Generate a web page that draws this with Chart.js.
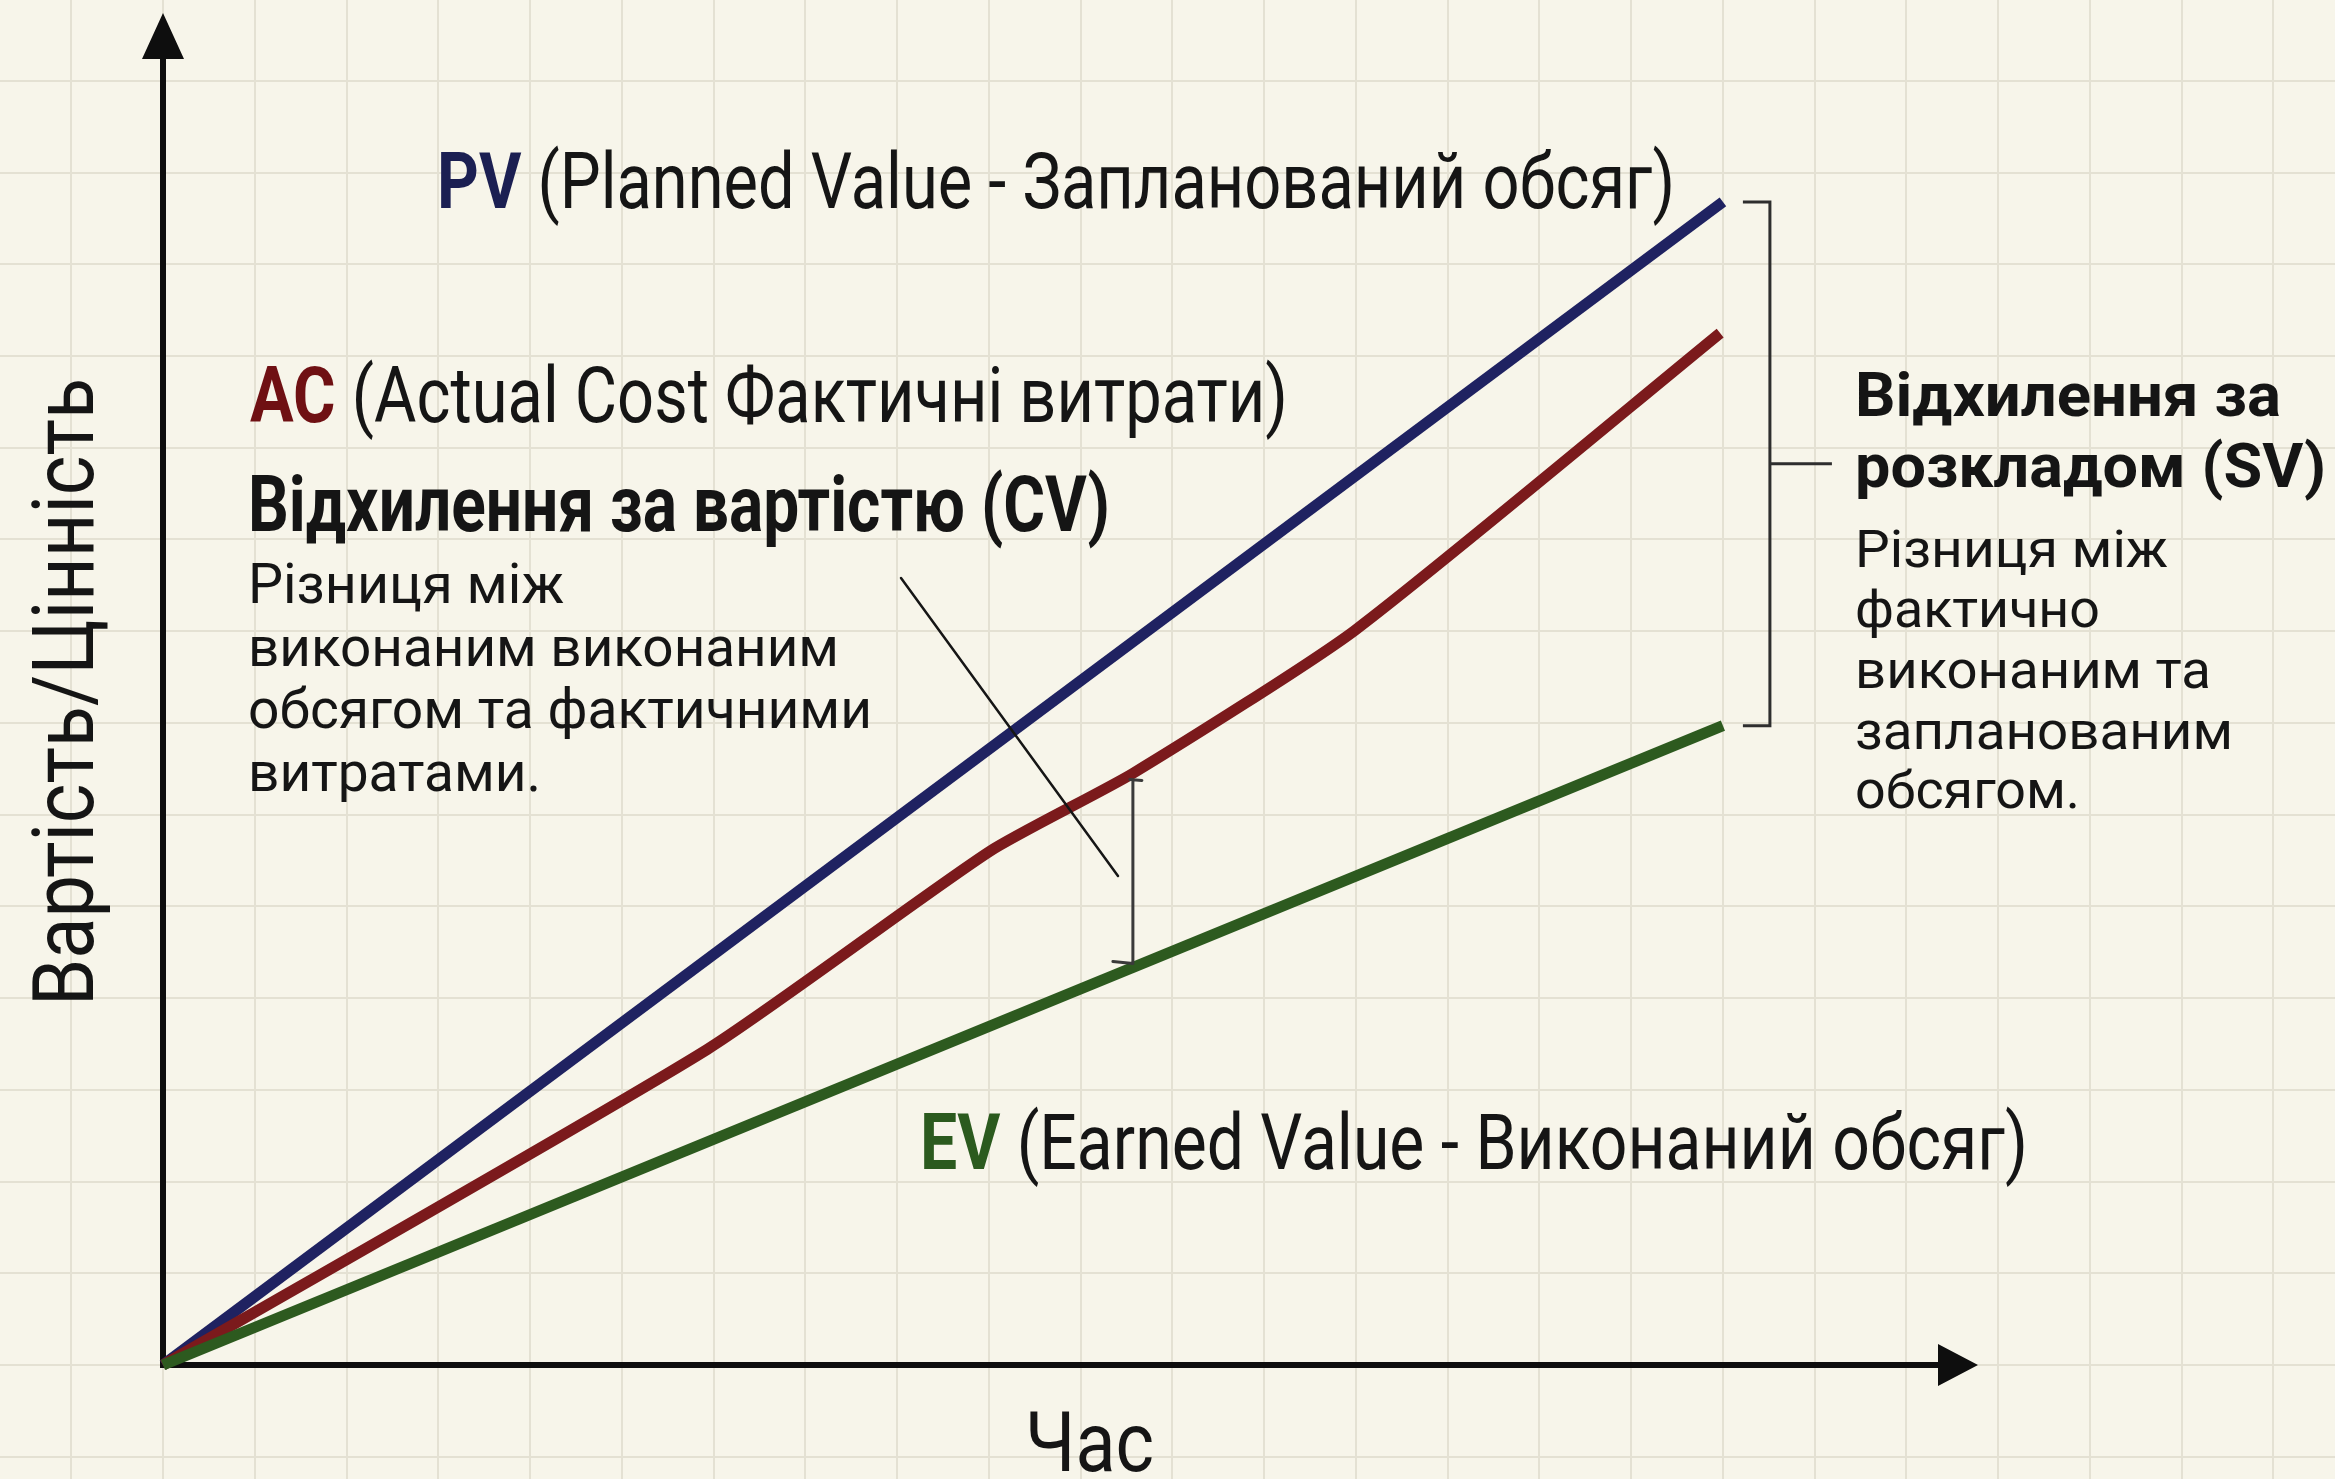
<!DOCTYPE html>
<html>
<head>
<meta charset="utf-8">
<script src="https://cdn.jsdelivr.net/npm/chart.js@4/dist/chart.umd.min.js"></script>
<style>
  html, body { margin: 0; padding: 0; background: #f7f5ea; }
  #wrap { width: 2335px; height: 1479px; }
</style>
</head>
<body>
<div id="wrap"><canvas id="evm" width="2335" height="1479"></canvas></div>
<script>
// units = grid cells of the squared paper
const pvTime = [0, 17];
const pvValue = [0, 12.68];
const acTime = [0, 5.93, 9.01, 10.57, 12.99, 16.97];
const acValue = [0, 3.44, 5.6, 6.45, 8.01, 11.25];
const evTime = [0, 17];
const evValue = [0, 6.97];
const timeMax = 19.78;
const valueMax = 14.74;
const cvTime = 10.57;

const xTitle = "Час";
const yTitle = "Вартість/Цінність";

function pts(xs, ys) {
  return xs.map((x, i) => ({ x: x, y: ys[i] }));
}

const COND = '"Roboto", "Liberation Sans", sans-serif';

// draw a run of text pieces squeezed/stretched to a given width
function fitText(ctx, parts, x, y, width) {
  let total = 0;
  parts.forEach(p => { ctx.font = p.font; p.w = ctx.measureText(p.text).width; total += p.w; });
  const sx = width / total;
  ctx.save();
  ctx.translate(x, y);
  ctx.scale(sx, 1);
  ctx.textBaseline = "alphabetic";
  ctx.textAlign = "left";
  let cx = 0;
  parts.forEach(p => {
    ctx.font = p.font;
    ctx.fillStyle = p.color || "#151515";
    ctx.fillText(p.text, cx, 0);
    cx += p.w;
  });
  ctx.restore();
}

const paperGrid = {
  id: "paperGrid",
  beforeDraw(chart) {
    const { ctx, scales: { x, y }, width, height } = chart;
    const x0 = x.getPixelForValue(0), ux = x.getPixelForValue(1) - x0;
    const y0 = y.getPixelForValue(0), uy = y0 - y.getPixelForValue(1);
    ctx.save();
    ctx.fillStyle = "#f7f5ea";
    ctx.fillRect(0, 0, width, height);
    ctx.strokeStyle = "#e4e1d3";
    ctx.lineWidth = 2;
    ctx.beginPath();
    for (let k = -Math.ceil(x0 / ux); x0 + k * ux < width; k++) {
      const px = Math.round(x0 + k * ux);
      ctx.moveTo(px, 0); ctx.lineTo(px, height);
    }
    for (let k = -Math.ceil((height - y0) / uy); y0 - k * uy > 0; k++) {
      const py = Math.round(y0 - k * uy);
      ctx.moveTo(0, py); ctx.lineTo(width, py);
    }
    ctx.stroke();
    ctx.restore();
  }
};

const arrowAxes = {
  id: "arrowAxes",
  beforeDatasetsDraw(chart) {
    const { ctx, chartArea: a, scales: { x, y } } = chart;
    const x0 = x.getPixelForValue(0), y0 = y.getPixelForValue(0);
    ctx.save();
    ctx.strokeStyle = "#0e0e0e";
    ctx.fillStyle = "#0e0e0e";
    ctx.lineWidth = 6;
    ctx.beginPath();
    ctx.moveTo(x0, y0 + 3); ctx.lineTo(x0, a.top + 40);
    ctx.moveTo(x0 - 3, y0); ctx.lineTo(a.right - 35, y0);
    ctx.stroke();
    ctx.beginPath();
    ctx.moveTo(x0, a.top); ctx.lineTo(x0 - 21, a.top + 46); ctx.lineTo(x0 + 21, a.top + 46); ctx.closePath();
    ctx.moveTo(a.right, y0); ctx.lineTo(a.right - 40, y0 - 21); ctx.lineTo(a.right - 40, y0 + 21); ctx.closePath();
    ctx.fill();
    ctx.restore();
  }
};

const notes = {
  id: "notes",
  afterDatasetsDraw(chart) {
    const { ctx, scales: { x, y } } = chart;
    ctx.save();
    ctx.lineCap = "round";

    // pointer to the cost variance
    ctx.strokeStyle = "#161616";
    ctx.lineWidth = 2.5;
    ctx.beginPath();
    ctx.moveTo(901, 578); ctx.lineTo(1118, 876);
    ctx.stroke();

    // cost variance marker between AC and EV
    const cx = x.getPixelForValue(cvTime);
    const acAt = y.getPixelForValue(acValue[3]);
    const evAt = y.getPixelForValue(evValue[1] * cvTime / evTime[1]);
    ctx.strokeStyle = "#3a3a3a";
    ctx.lineWidth = 3;
    ctx.beginPath();
    ctx.moveTo(cx, acAt + 6); ctx.lineTo(cx, evAt - 4);
    ctx.moveTo(cx - 3, acAt + 6); ctx.lineTo(cx + 9, acAt + 7);
    ctx.moveTo(cx - 20, evAt - 6); ctx.lineTo(cx, evAt - 4);
    ctx.stroke();

    // schedule variance bracket
    const bx = x.getPixelForValue(pvTime[1]) + 47;
    const top = y.getPixelForValue(pvValue[1]);
    const bot = y.getPixelForValue(evValue[1]);
    ctx.strokeStyle = "#2e2e2e";
    ctx.lineWidth = 3;
    ctx.lineCap = "butt";
    ctx.beginPath();
    ctx.moveTo(bx - 27, top); ctx.lineTo(bx, top); ctx.lineTo(bx, bot); ctx.lineTo(bx - 27, bot);
    ctx.moveTo(bx, (top + bot) / 2); ctx.lineTo(bx + 62, (top + bot) / 2);
    ctx.stroke();

    // series labels
    const lab = "78px " + COND, labB = "700 78px " + COND;
    fitText(ctx, [{ text: "PV", font: labB, color: "#1b1f52" },
                  { text: " (Planned Value - Запланований обсяг)", font: lab }], 437, 208, 1238);
    fitText(ctx, [{ text: "AC", font: labB, color: "#6f1013" },
                  { text: " (Actual Cost Фактичні витрати)", font: lab }], 250, 422, 1038);
    fitText(ctx, [{ text: "EV", font: labB, color: "#2b5a1e" },
                  { text: " (Earned Value - Виконаний обсяг)", font: lab }], 920, 1169, 1108);

    // cost variance text
    fitText(ctx, [{ text: "Відхилення за вартістю (CV)", font: labB }], 248, 531, 862);
    const body = "56px " + COND;
    [["Різниця між", 603, 316], ["виконаним виконаним", 666, 591],
     ["обсягом та фактичними", 728, 624], ["витратами.", 791, 293]].forEach(r =>
      fitText(ctx, [{ text: r[0], font: body }], 248, r[1], r[2]));

    // schedule variance text
    const svB = "700 62px " + COND;
    fitText(ctx, [{ text: "Відхилення за", font: svB }], 1855, 416, 426);
    fitText(ctx, [{ text: "розкладом (SV)", font: svB }], 1855, 487, 471);
    const svBody = "51px " + COND;
    [["Різниця між", 567, 313], ["фактично", 627, 245], ["виконаним та", 688, 356],
     ["запланованим", 749, 378], ["обсягом.", 808, 225]].forEach(r =>
      fitText(ctx, [{ text: r[0], font: svBody }], 1855, r[1], r[2]));

    // axis titles
    fitText(ctx, [{ text: xTitle, font: "84px " + COND }], 1025, 1471, 129);
    ctx.save();
    ctx.translate(93, 1006);
    ctx.rotate(-Math.PI / 2);
    fitText(ctx, [{ text: yTitle, font: "86px " + COND }], 0, 0, 628);
    ctx.restore();

    ctx.restore();
  }
};

const line = (label, data, color, tension) => ({
  label: label,
  data: data,
  borderColor: color,
  borderWidth: 11,
  pointRadius: 0,
  tension: tension,
  borderCapStyle: "butt",
  borderJoinStyle: "round",
  clip: false
});

new Chart(document.getElementById("evm"), {
  type: "line",
  data: {
    datasets: [
      line("EV", pts(evTime, evValue), "#2d5a1f", 0),
      line("AC", pts(acTime, acValue), "#7b1a1c", 0.2),
      line("PV", pts(pvTime, pvValue), "#1f2261", 0)
    ]
  },
  options: {
    responsive: false,
    animation: false,
    devicePixelRatio: 1,
    layout: { padding: { left: 163, right: 357, top: 13, bottom: 114 } },
    scales: {
      x: { type: "linear", min: 0, max: timeMax, display: false },
      y: { type: "linear", min: 0, max: valueMax, display: false }
    },
    plugins: {
      legend: { display: false },
      tooltip: { enabled: false }
    }
  },
  plugins: [paperGrid, arrowAxes, notes]
});
</script>
</body>
</html>
